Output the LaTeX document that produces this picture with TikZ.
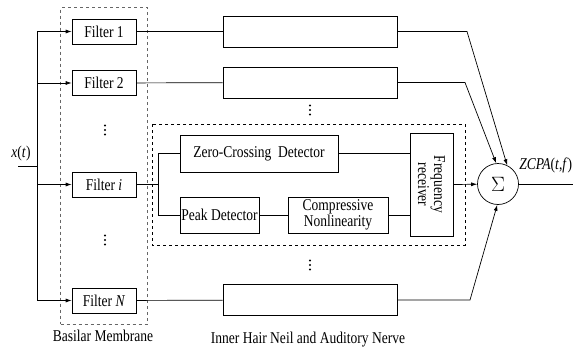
\documentclass[tikz,border=0pt]{standalone}
\usepackage{fontspec}
\setmainfont{Liberation Serif}[FakeStretch=0.82]
\usetikzlibrary{calc,positioning,arrows.meta,fit}

\begin{document}
\begin{tikzpicture}[x=1pt,y=-1pt,line width=0.7pt,font=\fontsize{16.5}{17}\selectfont,
  every node/.style={inner sep=1.6pt},
  filt/.style={draw,minimum width=64pt,minimum height=25pt},
  lbox/.style={draw,minimum width=174pt,minimum height=31pt},
  arr/.style={-{Latex[length=6pt,width=4pt]}}]
  \useasboundingbox (0,0) rectangle (573,348);
  % filters
  \node[filt] (f1) at (104,31.5) {Filter 1};
  \node[filt] (f2) at (104,83) {Filter 2};
  \node[filt] (fi) at (104,184.5) {Filter \textit{i}};
  \node[filt] (fn) at (104,300.5) {Filter \textit{N}};
  \node[draw=black!60,dashed,fit=(f1)(fn),inner sep=11pt] (bm) {};
  \node (bml) at (103,336) {Basilar Membrane};
  % vertical dots
  \foreach \dx/\dy in {105/130,105/240,310/110,310/265}
    \foreach \k in {-4.5,0,4.5}
      \fill (\dx,\dy+\k) circle (1.1pt);
  % input
  \coordinate (xin) at (18,166);
  \coordinate (src) at (37,166);
  \node (xl) at (21,154) {\textit{x}(\textit{t})};
  \draw (xin) -- (src);
  \draw (f1.west -| src) -- (fn.west -| src);
  \draw[arr] (f1.west -| src) -- (f1);
  \draw[arr] (f2.west -| src) -- (f2);
  \draw[arr] (fi.west -| src) -- (fi);
  \draw[arr] (fn.west -| src) -- (fn);
  % hair cell boxes
  \node[lbox] (h1) at (310,31.5) {};
  \node[lbox] (h2) at (310,82.5) {};
  \node[lbox] (hn) at (310,300) {};
  \draw (f1) -- (h1); \draw (f2) -- (h2); \draw (fn) -- (hn);
  % channel i
  \draw[dashed] (152,124) rectangle (465,245);
  \node[draw,minimum width=158pt,minimum height=37pt] (zc) at (259,153.5) {Zero-Crossing~~Detector};
  \node[draw,minimum width=79pt,minimum height=36pt,inner sep=0pt] (pk) at (219.5,215) {Peak Detector};
  \node[draw,minimum width=100pt,minimum height=36pt,align=center,inner sep=0pt] (cn) at (338,215) {Compressive\\[-1pt]Nonlinearity};
  \node[draw,rotate=-90,minimum width=103pt,minimum height=43pt,align=center,inner sep=0pt] (fr) at (431.5,184.5) {Frequency\\[-1pt]receiver};
  \coordinate (sp) at (158,184.5);
  \draw (fi) -- (sp);
  \draw (zc.west -| sp) -- (pk.west -| sp);
  \draw (zc.west -| sp) -- (zc); \draw (pk.west -| sp) -- (pk);
  \draw (pk) -- (cn);
  \draw (zc.east) -- (zc.east -| fr.south);
  \draw (cn.east) -- (cn.east -| fr.south);
  % sum
  \node[draw,circle,minimum size=41pt,inner sep=0pt,font=\fontsize{22}{22}\selectfont] (sum) at (498,184) {$\Sigma$};
  \coordinate (b1) at (467,31.5);
  \coordinate (b2) at (465,82.5);
  \coordinate (bn) at (470,300);
  \draw[arr] (h1.east) -- (b1) -- (sum.64);
  \draw[arr] (h2.east) -- (b2) -- (sum.95);
  \draw[arr] (hn.east) -- (bn) -- (sum.-92);
  \draw[arr] (fr.north) -- (sum);
  \coordinate (out) at (573,184);
  \draw (sum) -- (out);
  \node[anchor=south west,inner sep=0pt] (zl) at (519,173) {\textit{ZCPA}(\textit{t},\textit{f})};
  \node (hl) at (308,340) {Inner Hair Neil and Auditory Nerve};
\end{tikzpicture}
\end{document}
